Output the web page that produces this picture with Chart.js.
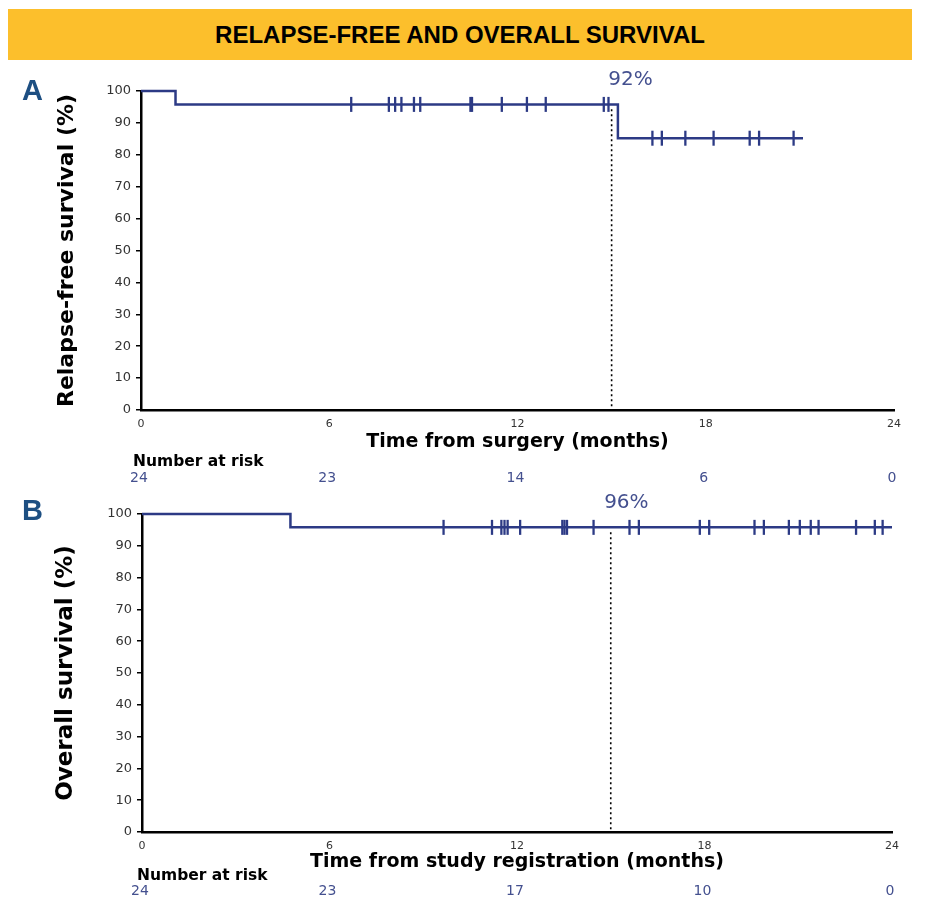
<!DOCTYPE html>
<html>
<head>
<meta charset="utf-8">
<script src="https://cdn.jsdelivr.net/npm/chart.js@4.4.0/dist/chart.umd.min.js"></script>
<style>
  body { margin: 0; background: #fff; width: 936px; height: 912px; position: relative; overflow: hidden; }
  #banner {
    position: absolute; left: 8px; top: 9px; width: 904px; height: 51px;
    background: #fcbf2c; display: flex; align-items: center; justify-content: center;
    font: bold 24px "Liberation Sans", Arial, sans-serif; color: #000;
  }
  canvas { position: absolute; left: 0; }
  #chartA { top: 62px; }
  #chartB { top: 492px; }
</style>
</head>
<body>
<div id="banner">RELAPSE-FREE AND OVERALL SURVIVAL</div>
<canvas id="chartA" width="936" height="430"></canvas>
<canvas id="chartB" width="936" height="420"></canvas>
<script>
// A: relapse-free survival (step points: time in months, survival %)
const rfsTimes = [0, 1.1, 15.2, 21.1];
const rfsSurv = [100, 95.8, 85.2, 85.2];
const rfsCensor = [6.7, 7.9, 8.1, 8.3, 8.7, 8.9, 10.5, 10.55, 11.5, 12.3, 12.9, 14.75, 14.9,
                   16.3, 16.6, 17.35, 18.25, 19.4, 19.7, 20.8];
const rfsRisk = [24, 23, 14, 6, 0];

// B: overall survival
const osTimes = [0, 4.75, 24.0];
const osSurv = [100, 95.8, 95.8];
const osCensor = [9.65, 11.2, 11.5, 11.6, 11.7, 12.1, 13.45, 13.52, 13.6, 14.45, 15.6, 15.9,
                  17.85, 18.15, 19.6, 19.9, 20.7, 21.05, 21.4, 21.65, 22.85, 23.45, 23.7];
const osRisk = [24, 23, 17, 10, 0];

const riskTimes = [0, 6, 12, 18, 24];
const landmark = 15;

const navy = '#2c3a85';
const labelBlue = '#44508f';

Chart.defaults.font.family = '"DejaVu Sans", sans-serif';

function levelAt(times, surv, t) {
    let v = surv[0];
    for (let i = 0; i < times.length; i++) {
        if (times[i] <= t) v = surv[i];
    }
    return v;
}

const kmLabels = {
    id: 'kmLabels',
    afterDraw(chart, args, o) {
        const { ctx, scales: { x, y } } = chart;
        ctx.save();
        // panel letter
        ctx.fillStyle = '#1d4f82';
        ctx.font = 'bold 29px "Liberation Sans", Arial, sans-serif';
        ctx.textAlign = 'left';
        ctx.textBaseline = 'alphabetic';
        ctx.fillText(o.letter, 22, o.letterY);

        // landmark percentage
        ctx.fillStyle = labelBlue;
        ctx.font = '20px "DejaVu Sans"';
        ctx.textAlign = 'center';
        ctx.textBaseline = 'middle';
        ctx.fillText(o.pctText, x.getPixelForValue(o.pctAt), y.getPixelForValue(100) - o.pctGap);

        // number at risk
        const base = y.getPixelForValue(0);
        ctx.fillStyle = '#000';
        ctx.font = 'bold 15.5px "DejaVu Sans"';
        ctx.textAlign = 'left';
        ctx.fillText('Number at risk', x.getPixelForValue(0) + o.nrShift, base + o.nrGap);

        ctx.fillStyle = labelBlue;
        ctx.font = '14px "DejaVu Sans"';
        ctx.textAlign = 'center';
        o.risk.forEach((n, i) => {
            ctx.fillText(String(n), x.getPixelForValue(riskTimes[i]) - 2, base + o.countGap);
        });
        ctx.restore();
    }
};

function makeChart(id, cfg) {
    const curve = cfg.times.map((t, i) => ({ x: t, y: cfg.surv[i] }));
    const marks = cfg.censor.map(t => ({ x: t, y: levelAt(cfg.times, cfg.surv, t) }));
    const lm = levelAt(cfg.times, cfg.surv, landmark);

    new Chart(document.getElementById(id), {
        type: 'line',
        data: {
            datasets: [
                {
                    data: [{ x: landmark, y: lm - 1.5 }, { x: landmark, y: 0 }],
                    borderColor: '#000', borderWidth: 1.6, borderDash: [2, 3],
                    pointRadius: 0, clip: false, order: 3
                },
                {
                    data: curve, stepped: true, borderColor: navy, borderWidth: 2.5,
                    pointRadius: 0, clip: false, order: 2
                },
                {
                    data: marks, showLine: false, pointStyle: 'line', rotation: 90,
                    pointRadius: 7.5, pointBorderWidth: 2.3, pointBorderColor: navy,
                    borderColor: navy, clip: false, order: 1
                }
            ]
        },
        options: {
            responsive: false,
            animation: false,
            layout: { padding: { top: cfg.padTop, right: cfg.padRight, bottom: cfg.padBottom, left: 0 } },
            plugins: {
                legend: { display: false },
                tooltip: { enabled: false },
                kmLabels: cfg.labels
            },
            scales: {
                x: {
                    type: 'linear', min: 0, max: 24,
                    ticks: { stepSize: 6, padding: 8, color: '#333', font: { size: 11 } },
                    grid: { display: false, drawTicks: false },
                    border: { display: true, color: '#000', width: 2.5 },
                    title: {
                        display: true, text: cfg.xTitle, color: '#000',
                        font: { size: 19, weight: 'bold', lineHeight: 1.2 }, padding: 0
                    },
                    afterFit: s => { s.height = cfg.xHeight; }
                },
                y: {
                    min: 0, max: 100,
                    ticks: { stepSize: 10, padding: 5, color: '#333', font: { size: 13 } },
                    grid: { display: true, drawOnChartArea: false, drawTicks: true, tickLength: 5, color: '#000', lineWidth: 1.5 },
                    border: { display: true, color: '#000', width: 2.5 },
                    title: {
                        display: true, text: cfg.yTitle, color: '#000',
                        font: { size: cfg.yTitleSize, weight: 'bold', lineHeight: 1.2 },
                        padding: { top: cfg.yTitlePad, bottom: 0 }
                    },
                    afterFit: s => { s.width = cfg.yWidth; }
                }
            }
        },
        plugins: [kmLabels]
    });
}

makeChart('chartA', {
    times: rfsTimes, surv: rfsSurv, censor: rfsCensor,
    xTitle: 'Time from surgery (months)', yTitle: 'Relapse-free survival (%)',
    yTitleSize: 22, yTitlePad: 54, yWidth: 141, xHeight: 43.4,
    padTop: 29, padRight: 42, padBottom: 38.6,
    labels: { letter: 'A', letterY: 38, pctText: '92%', pctAt: 15.6, pctGap: 11.5,
              risk: rfsRisk, nrShift: -8, nrGap: 52, countGap: 68 }
});

makeChart('chartB', {
    times: osTimes, surv: osSurv, censor: osCensor,
    xTitle: 'Time from study registration (months)', yTitle: 'Overall survival (%)',
    yTitleSize: 23, yTitlePad: 52, yWidth: 142, xHeight: 41.4,
    padTop: 22, padRight: 44, padBottom: 38.6,
    labels: { letter: 'B', letterY: 28, pctText: '96%', pctAt: 15.5, pctGap: 11,
              risk: osRisk, nrShift: -5, nrGap: 44, countGap: 59 }
});
</script>
</body>
</html>
